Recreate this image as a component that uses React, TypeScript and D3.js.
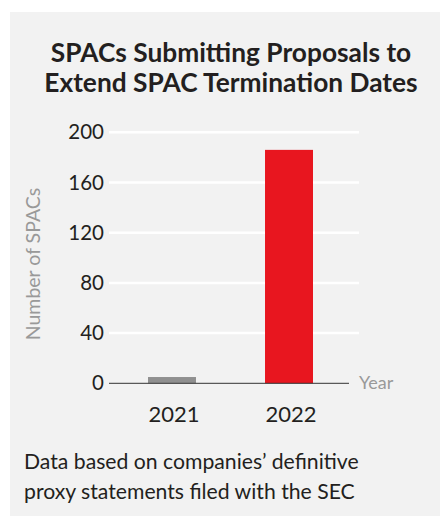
import React from "react";
import * as d3 from "d3";

const years = ["2021", "2022"];
const counts = [5, 186];
const barColors = ["#909090", "#e8161f"];
const yTicks = [0, 40, 80, 120, 160, 200];
const titleLines = ["SPACs Submitting Proposals to", "Extend SPAC Termination Dates"];
const noteLines = ["Data based on companies\u2019 definitive", "proxy statements filed with the SEC"];

export default function App() {
  const W = 440, H = 517;
  const font = "Lato, 'Open Sans', sans-serif";
  const y = d3.scaleLinear().domain([0, 200]).range([383.3, 132.3]);
  const x = d3.scaleBand().domain(years).range([89.5, 371.5]).paddingInner(0.59).paddingOuter(0.5);
  return (
    <svg width={W} height={H} style={{ position: "absolute", left: 0, top: 0 }}>
      <rect x={10} y={12} width={430} height={504} fill="#f2f2f2" />
      {titleLines.map((t, i) => (
        <text key={t} x={231} y={61.7 + i * 30} textAnchor="middle" fontFamily={font} fontWeight={700} fontSize={26.3} fill="#231f20">{t}</text>
      ))}
      {yTicks.map((t) => (
        <g key={t}>
          {t > 0 && <line x1={109} x2={359} y1={y(t)} y2={y(t)} stroke="#ffffff" strokeWidth={2.5} />}
          <text x={104} y={y(t) + 7} textAnchor="end" fontFamily={font} fontSize={20.5} fill="#231f20">{t}</text>
        </g>
      ))}
      {years.map((yr, i) => (
        <rect key={yr} x={x(yr)} y={y(counts[i])} width={x.bandwidth()} height={y(0) - y(counts[i])} fill={barColors[i]} />
      ))}
      <line x1={109} x2={349} y1={y(0)} y2={y(0)} stroke="#333" strokeWidth={1} />
      <text x={359} y={389} fontFamily={font} fontSize={18} fill="#999">Year</text>
      {years.map((yr) => (
        <text key={yr} x={(x(yr) as number) + x.bandwidth() / 2 + 2} y={421.5} textAnchor="middle" fontFamily={font} fontSize={22} fill="#231f20">{yr}</text>
      ))}
      <text transform="translate(40,264) rotate(-90)" textAnchor="middle" fontFamily={font} fontSize={19.5} fill="#999">Number of SPACs</text>
      {noteLines.map((t, i) => (
        <text key={t} x={24} y={469 + i * 30} fontFamily={font} fontSize={21.2} fill="#231f20">{t}</text>
      ))}
    </svg>
  );
}
